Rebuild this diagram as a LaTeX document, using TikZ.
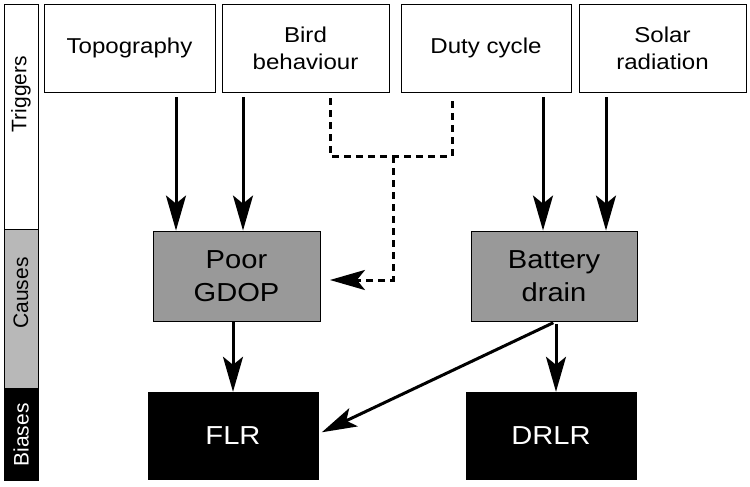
\documentclass[tikz,border=0pt]{standalone}
\usepackage{fontspec}
\setmainfont{Liberation Sans}[FakeStretch=1.12]
\newfontfamily\sidefont{Liberation Sans}
\usetikzlibrary{positioning,arrows.meta}

\begin{document}
\begin{tikzpicture}[x=1pt,y=-1pt,
  >={Stealth[length=35pt,width=20pt,inset=8pt]},
  trigger/.style={draw,line width=0.9pt,fill=white,minimum height=88pt,align=center,font=\fontsize{21.5}{27}\selectfont},
  cause/.style={draw,line width=0.9pt,fill=black!40,minimum width=167pt,minimum height=90pt,align=center,font=\fontsize{26}{33}\selectfont},
  bias/.style={draw,fill=black,text=white,minimum width=170pt,minimum height=87pt,font=\fontsize{26}{33}\selectfont},
  band/.style={draw,line width=0.9pt,rotate=90,minimum height=34pt},
  bandtext/.style={rotate=90,font=\sidefont\fontsize{21}{24}\selectfont},
  link/.style={->,line width=3pt},
  maybe/.style={line width=3pt,dash pattern=on 7pt off 5pt}]

\useasboundingbox (0,0) rectangle (750,487);

% Side bands
\path
(21,116.5) node[band,fill=white,minimum width=225pt] (lbtrig) {}
(21,308.5) node[band,fill=black!28,minimum width=159pt] (lbcaus) {}
(21,434)   node[band,fill=black,minimum width=92pt] (lbbias) {}
(21,94)    node[bandtext] (ttrig) {Triggers}
(21,293)   node[bandtext] (tcaus) {Causes}
(21,435)   node[bandtext,text=white] (tbias) {Biases};

% Triggers
\path
(129.5,48) node[trigger,minimum width=171pt] (topo) {Topography}
(305.5,48) node[trigger,minimum width=167pt] (bird) {Bird\\behaviour}
(486,48)   node[trigger,minimum width=170pt] (duty) {Duty cycle}
(662.5,48) node[trigger,minimum width=167pt] (solar) {Solar\\radiation};

% Causes
\path
(236.5,276) node[cause] (gdop) {Poor\\GDOP}
(554,276)   node[cause,minimum width=166pt] (batt) {Battery\\drain};

% Biases
\path
(233,435.5) node[bias] (flr) {FLR}
(551,435.5) node[bias] (drlr) {DRLR};

% Triggers -> causes
\draw[link,shorten <=5pt] ([xshift=-60.5pt]gdop.north |- topo.south) -- ([xshift=-60.5pt]gdop.north);
\draw[link,shorten <=5pt] ([xshift=6.5pt]gdop.north |- bird.south) -- ([xshift=6.5pt]gdop.north);
\draw[link,shorten <=5pt] ([xshift=-11pt]batt.north |- duty.south) -- ([xshift=-11pt]batt.north);
\draw[link,shorten <=5pt] ([xshift=52pt]batt.north |- solar.south) -- ([xshift=52pt]batt.north);

% dashed link
\coordinate (split) at (393,156);
\draw[maybe] ([xshift=24.5pt,yshift=-6pt]bird.south) |- (split) -| ([xshift=-34pt,yshift=-5pt]duty.south);
\draw[maybe,->,shorten >=9.5pt] (split) |- ([yshift=-4pt]gdop.east);

% Causes -> biases
\draw[link] (flr.north |- gdop.south) -- (flr.north);
\draw[link,shorten <=3pt] ([xshift=2pt]batt.south) -- ([xshift=2pt]batt.south |- drlr.north);
\draw[link,shorten <=3pt,shorten >=4pt] ([xshift=2pt]batt.south) -- ([yshift=1.5pt]flr.east);

\end{tikzpicture}
\end{document}
